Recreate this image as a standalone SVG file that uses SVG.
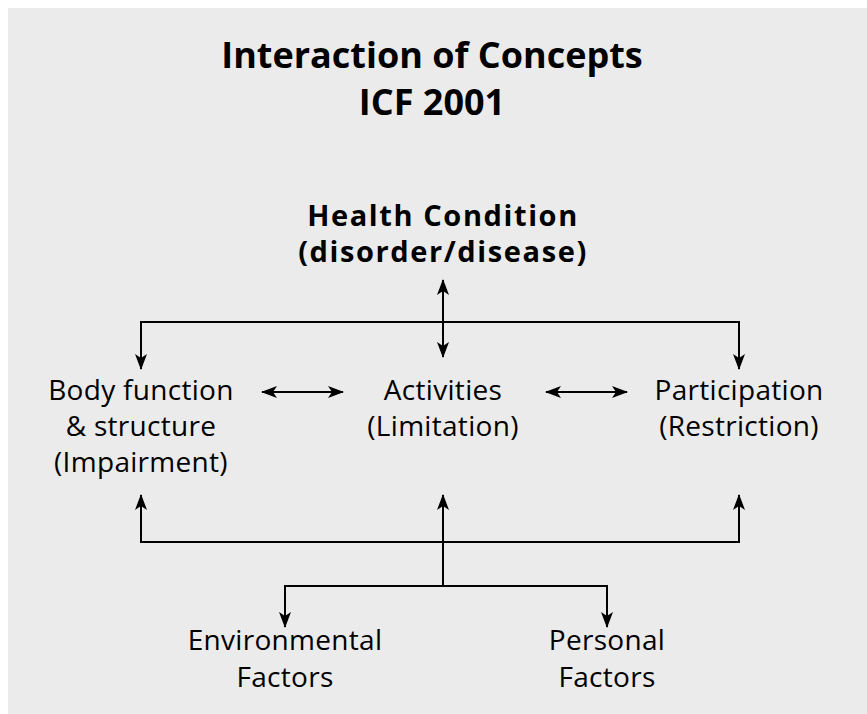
<svg xmlns="http://www.w3.org/2000/svg" width="867" height="714" viewBox="0 0 867 714">
  <style>
    .title { font-family: "Open Sans", "Liberation Sans", sans-serif; font-weight: bold; font-size: 36px; fill: #000; text-anchor: middle; }
    .head { font-family: "Open Sans", "Liberation Sans", sans-serif; font-weight: bold; font-size: 29px; fill: #000; text-anchor: middle; letter-spacing: 1.6px; }
    .label { font-family: "Open Sans", "Liberation Sans", sans-serif; font-size: 28px; fill: #000; text-anchor: middle; letter-spacing: 0.3px; }
    .line { fill: none; stroke: #000; stroke-width: 2; }
  </style>
  <defs>
    <marker id="arrow" viewBox="0 0 16 12" refX="15" refY="6" markerWidth="16" markerHeight="12" markerUnits="userSpaceOnUse" orient="auto-start-reverse">
      <path d="M0,0 L16,6 L0,12 L4,6 z" fill="#000"/>
    </marker>
  </defs>

  <rect x="8" y="8" width="859" height="706" fill="#ebebeb"/>

  <g id="title">
    <text class="title" x="432" y="68">Interaction of Concepts</text>
    <text class="title" x="432" y="115">ICF 2001</text>
  </g>

  <g id="health-condition">
    <text class="head" x="443" y="226">Health Condition</text>
    <text class="head" x="443" y="262">(disorder/disease)</text>
  </g>

  <g id="body-function">
    <text class="label" x="141" y="400">Body function</text>
    <text class="label" x="141" y="436">&amp; structure</text>
    <text class="label" x="141" y="472">(Impairment)</text>
  </g>

  <g id="activities">
    <text class="label" x="443" y="400">Activities</text>
    <text class="label" x="443" y="436">(Limitation)</text>
  </g>

  <g id="participation">
    <text class="label" x="739" y="400">Participation</text>
    <text class="label" x="739" y="436">(Restriction)</text>
  </g>

  <g id="environmental-factors">
    <text class="label" x="285" y="650">Environmental</text>
    <text class="label" x="285" y="687">Factors</text>
  </g>

  <g id="personal-factors">
    <text class="label" x="607" y="650">Personal</text>
    <text class="label" x="607" y="687">Factors</text>
  </g>

  <g id="connectors">
    <!-- health condition to the three components -->
    <line class="line" x1="443" y1="280" x2="443" y2="357" marker-start="url(#arrow)" marker-end="url(#arrow)"/>
    <polyline class="line" points="141,369 141,322 739,322 739,369" marker-start="url(#arrow)" marker-end="url(#arrow)"/>
    <!-- horizontal interactions -->
    <line class="line" x1="262" y1="392" x2="343" y2="392" marker-start="url(#arrow)" marker-end="url(#arrow)"/>
    <line class="line" x1="546" y1="392" x2="627" y2="392" marker-start="url(#arrow)" marker-end="url(#arrow)"/>
    <!-- contextual factors back up to the components -->
    <polyline class="line" points="141,495 141,542 739,542 739,495" marker-start="url(#arrow)" marker-end="url(#arrow)"/>
    <line class="line" x1="443" y1="586" x2="443" y2="495" marker-end="url(#arrow)"/>
    <polyline class="line" points="285,627 285,586 607,586 607,627" marker-start="url(#arrow)" marker-end="url(#arrow)"/>
  </g>
</svg>
